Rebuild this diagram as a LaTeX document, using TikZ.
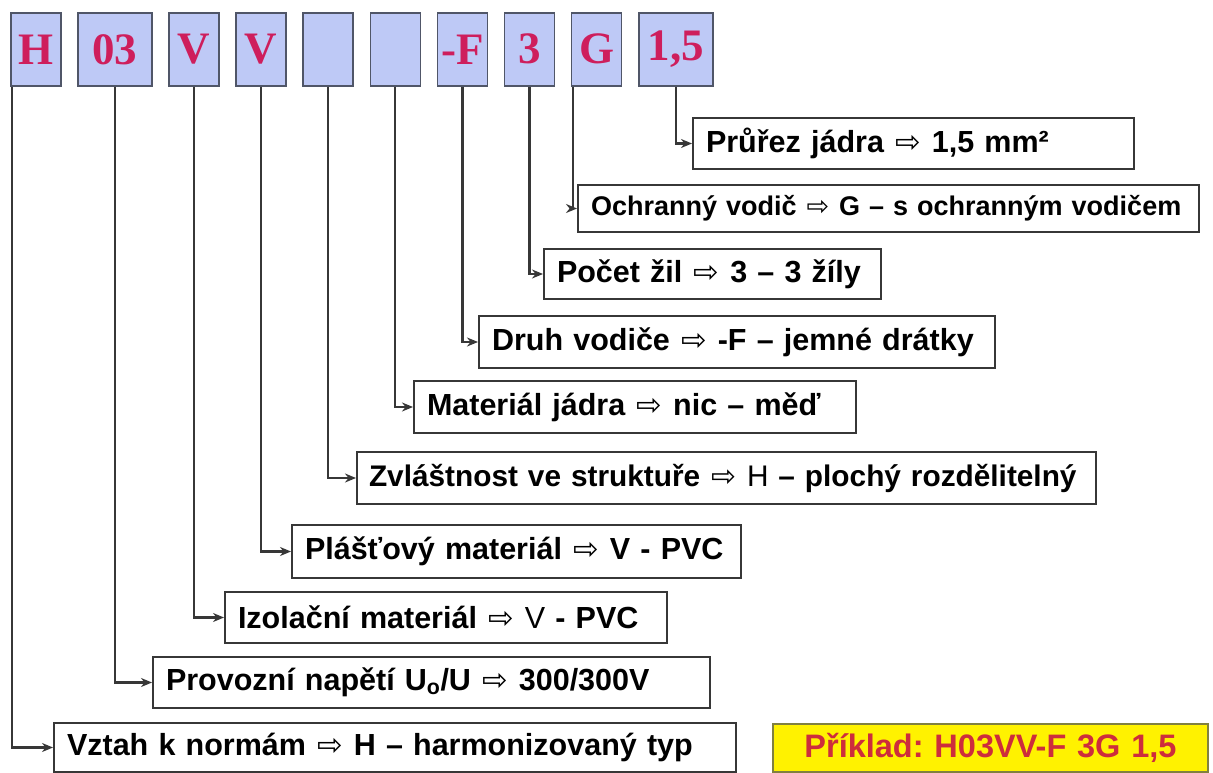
\documentclass[tikz,border=0pt]{standalone}
\usepackage{fontspec}
\setmainfont{Liberation Sans}
\newfontfamily\codefont{Liberation Serif}
\newfontfamily\arrowfont{DejaVu Sans}
\usetikzlibrary{positioning,arrows.meta}
\frenchspacing
\newcommand{\darr}{{\arrowfont\mdseries\kern1pt⇨\kern1pt}}
\definecolor{codefill}{RGB}{190,201,246}
\definecolor{codetext}{RGB}{206,30,92}
\definecolor{codeline}{RGB}{80,86,104}
\definecolor{lblline}{RGB}{55,55,55}
\definecolor{exred}{RGB}{205,45,60}
\definecolor{exline}{RGB}{128,128,64}
\tikzset{
  code/.style={draw=codeline,line width=1.6pt,fill=codefill,minimum width=50pt,
    minimum height=73pt,inner sep=0pt,text=codetext,font=\codefont\bfseries\fontsize{45}{45}\selectfont},
  widecode/.style={code,minimum width=74pt},
  lbl/.style={draw=lblline,line width=2pt,fill=white,anchor=north west,align=left,
    inner xsep=13pt,inner ysep=0pt,minimum height=51pt,font=\bfseries\fontsize{30.5}{30.5}\selectfont},
  conn/.style={draw=lblline,line width=2.2pt,-{Stealth[length=11pt,width=9pt]}},
}
\begin{document}
\begin{tikzpicture}[x=1pt,y=-1pt]
  \useasboundingbox (0,0) rectangle (1213,773);
  % code boxes along the top
  \node[code,anchor=north west] (cH) at (10,12) {H};
  \node[widecode,right=15.5pt of cH] (c03) {03};
  \node[code,right=15.5pt of c03] (cV1) {V};
  \node[code,right=15.5pt of cV1] (cV2) {V};
  \node[code,right=15.5pt of cV2] (cE1) {};
  \node[code,right=15.5pt of cE1] (cE2) {};
  \node[code,right=15.5pt of cE2] (cF) {-F};
  \node[code,right=15.5pt of cF] (c3) {3};
  \node[code,right=15.5pt of c3] (cG) {G};
  \node[widecode,right=15.5pt of cG] (c15) {1,5};
  % explanation boxes
  \node[lbl,text width=415pt] (lPrurez) at (692,117) {Průřez jádra \darr{} 1,5 mm²};
  \node[lbl,text width=595pt,minimum height=47pt,font=\bfseries\fontsize{27}{27}\selectfont]
    (lOchr) at (577,184) {Ochranný vodič \darr{} G – s ochranným vodičem};
  \node[lbl,text width=311pt,minimum height=50pt] (lPocet) at (543,248) {Počet žil \darr{} 3 – 3 žíly};
  \node[lbl,text width=490pt,minimum height=52pt] (lDruh) at (478,315) {Druh vodiče \darr{} -F – jemné drátky};
  \node[lbl,text width=416pt,minimum height=52pt] (lMat) at (413,380) {Materiál jádra \darr{} nic – měď};
  \node[lbl,text width=715pt,inner xsep=12pt,minimum height=52pt,font=\bfseries\fontsize{29.8}{29.8}\selectfont]
    (lZvl) at (356,451) {Zvláštnost ve struktuře \darr{} {\mdseries H} – plochý rozdělitelný};
  \node[lbl,text width=423pt,minimum height=53pt] (lPlast) at (291,524) {Plášťový materiál \darr{} V - PVC};
  \node[lbl,text width=416pt] (lIzol) at (224,591) {Izolační materiál \darr{} {\mdseries V} - PVC};
  \node[lbl,text width=531pt] (lProv) at (152,656) {Provozní napětí U\textsubscript{o}/U \darr{} 300/300V};
  \node[lbl,text width=656pt,minimum height=49pt] (lVztah) at (53,722) {Vztah k normám \darr{} H – harmonizovaný typ};
  % example
  \node[lbl,draw=exline,fill=yellow,text=exred,align=center,text width=409pt,minimum height=48pt,
    font=\bfseries\fontsize{32.5}{32.5}\selectfont] (lPriklad) at (772,723) {Příklad: H03VV-F 3G 1,5};
  % connectors
  \draw[conn] ([xshift=2pt]cH.south west) |- (lVztah.west);
  \draw[conn] (c03.south) |- (lProv.west);
  \draw[conn] (cV1.south) |- (lIzol.west);
  \draw[conn] (cV2.south) |- (lPlast.west);
  \draw[conn] (cE1.south) |- (lZvl.west);
  \draw[conn] (cE2.south) |- (lMat.west);
  \draw[conn] (cF.south) |- (lDruh.west);
  \draw[conn] (c3.south) |- (lPocet.west);
  \draw[conn] ([xshift=2pt]cG.south west) |- (lOchr.west);
  \draw[conn] (c15.south) |- (lPrurez.west);
\end{tikzpicture}
\end{document}
